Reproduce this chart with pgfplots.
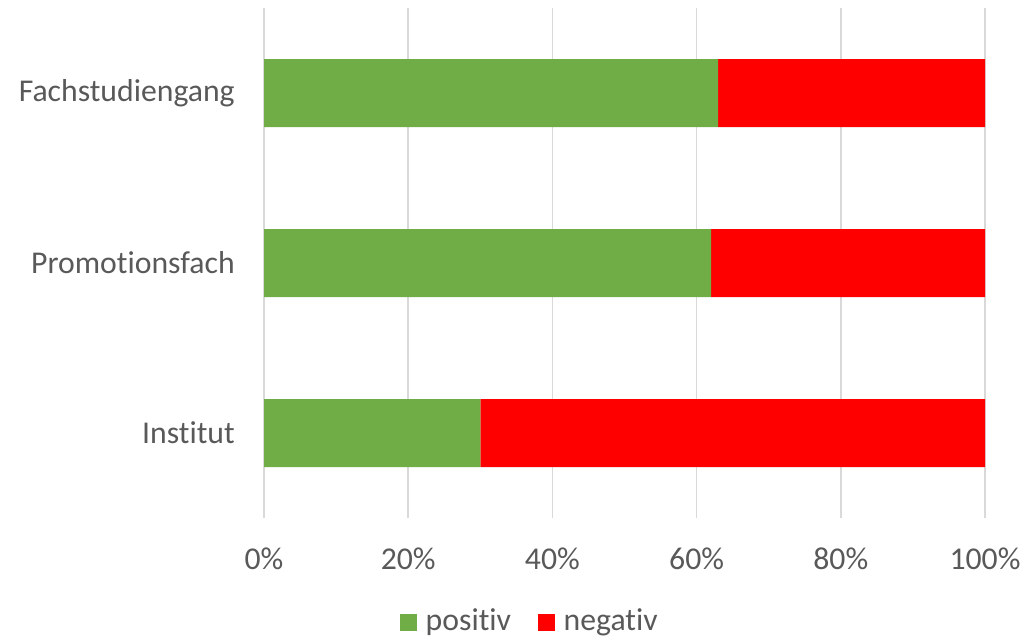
\documentclass[border=0pt]{standalone}
\usepackage{fontspec}
\setmainfont[RawFeature=-liga]{Carlito}
\usepackage{pgfplots}
\pgfplotsset{compat=1.18}
\definecolor{cgreen}{HTML}{70AD47}
\definecolor{cred}{HTML}{FF0000}
\definecolor{cgrid}{HTML}{D9D9D9}
\definecolor{ctext}{HTML}{595959}
\begin{document}
\fontsize{23.8}{28}\selectfont
\begin{tikzpicture}
\useasboundingbox (0,0) rectangle (770.25pt,480pt);
\begin{axis}[
  at={(198pt,91.5pt)}, anchor=south west,
  scale only axis, width=540.75pt, height=382.5pt,
  xbar stacked, bar width=0.4,
  xmin=0, xmax=100, ymin=-0.5, ymax=2.5,
  xtick={0,20,40,60,80,100},
  xticklabels={0\%,20\%,40\%,60\%,80\%,100\%},
  ytick={0,1,2},
  yticklabels={Institut,Promotionsfach,Fachstudiengang},
  axis line style={draw=none},
  major tick length=0pt,
  tick style={draw=none},
  xmajorgrids, ymajorgrids=false,
  grid style={cgrid, line width=1.1pt},
  ticklabel style={font=\fontsize{23.8}{28}\selectfont, text=ctext},
  xticklabel style={anchor=center, inner sep=0pt, yshift=-30.75pt},
  yticklabel style={anchor=east, inner sep=0pt, xshift=-21.75pt},
  legend columns=2,
  legend style={draw=none, at={(0.369,-0.204)}, anchor=center,
    font=\fontsize{23.8}{28}\selectfont, text=ctext,
    /tikz/every even column/.append style={column sep=18pt}},
  legend image code/.code={\fill[#1] (0pt,-6.4pt) rectangle (12.75pt,6.4pt); \path (17.5pt,0pt);},
  clip=false,
]
\addplot[fill=cgreen, draw=none] coordinates {(30,0) (62,1) (63,2)};
\addplot[fill=cred, draw=none] coordinates {(70,0) (38,1) (37,2)};
\legend{positiv,negativ}
\end{axis}
\end{tikzpicture}
\end{document}
